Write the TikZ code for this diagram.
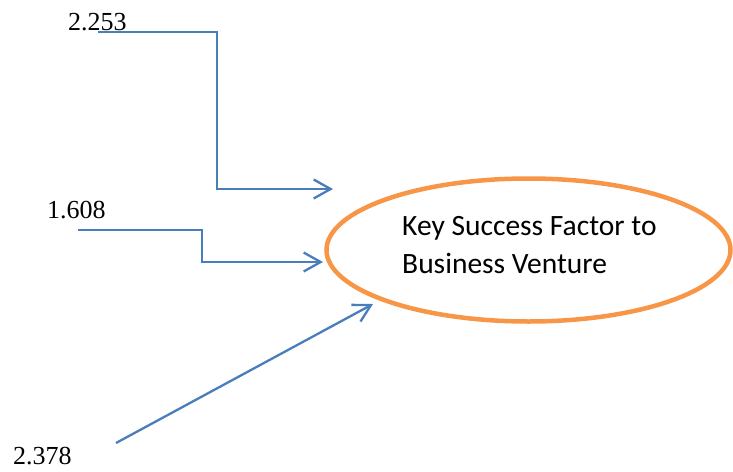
\documentclass[tikz,border=0pt]{standalone}
\usepackage{fontspec}
\setmainfont{Liberation Serif}
\newfontfamily\calibrifont{Carlito}
\usetikzlibrary{arrows.meta,shapes.geometric}
\definecolor{linkblue}{HTML}{4A7EBB}
\definecolor{ovalorange}{HTML}{F79646}
\begin{document}
\begin{tikzpicture}[x=1pt,y=-1pt,
  numlabel/.style={anchor=base west,inner sep=0pt,text depth=0pt,font=\fontsize{26}{30}\selectfont},
  ovaltext/.style={anchor=base west,inner sep=0pt,font=\calibrifont\fontsize{29.5}{38}\selectfont},
  link/.style={draw=linkblue,line width=2.3pt,-{Straight Barb[length=17pt,width=19pt,line width=2.3pt]}},
  oval/.style={draw=ovalorange,line width=4.5pt,ellipse,minimum width=404pt,minimum height=143pt,inner sep=0pt}]
\useasboundingbox (0,0) rectangle (733,471);
\node[oval] (kf) at (528.5,250) {};
\node[ovaltext] (kft1) at (402,235) {Key Success Factor to};
\node[ovaltext] (kft2) at (402,273) {Business Venture};
\node[numlabel] (n1) at (68,30) {2.253};
\node[numlabel] (n2) at (47,218) {1.608};
\node[numlabel] (n3) at (13,464) {2.378};
\coordinate (s1) at (98,32);
\coordinate (e1) at (333,189);
\coordinate (s2) at (78,230);
\coordinate (e2) at (323,262);
\coordinate (s3) at (116,443);
\coordinate (e3) at (373,304);
\draw[link] (s1) -- (217,32) -- (217,189) -- (e1);
\draw[link] (s2) -- (202,230) -- (202,262) -- (e2);
\draw[link] (s3) -- (e3);
\end{tikzpicture}
\end{document}
